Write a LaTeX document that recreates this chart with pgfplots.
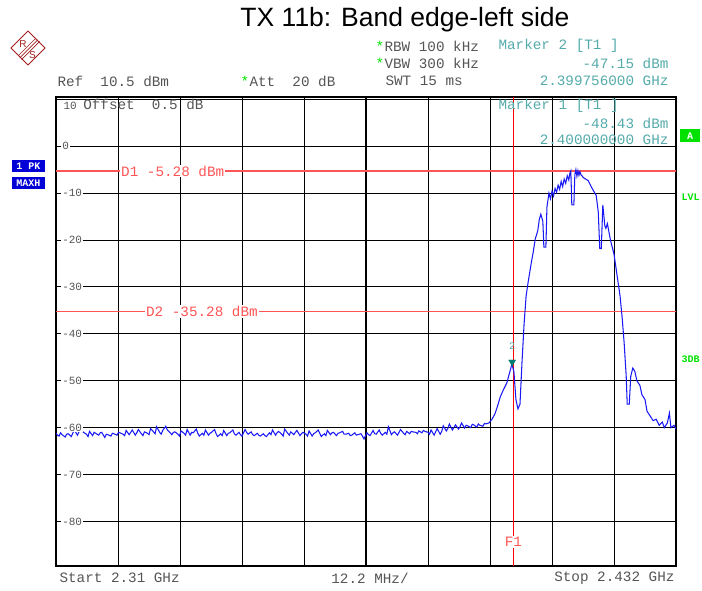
\documentclass[border=0pt]{standalone}
\usepackage{pgfplots}
\pgfplotsset{compat=1.18}
\usepackage{fontspec}
\setmainfont{Liberation Sans}
\newfontfamily\mono{Liberation Mono}
\definecolor{trace}{RGB}{25,25,245}
\definecolor{dline}{RGB}{255,85,85}
\definecolor{mk}{RGB}{85,170,170}
\definecolor{mkdark}{RGB}{0,125,115}
\definecolor{grn}{RGB}{0,225,0}
\definecolor{rsred}{RGB}{160,30,30}
\definecolor{lbl}{RGB}{85,85,85}
\definecolor{pkblue}{RGB}{0,0,215}
\newcommand\hdr{\mono\fontsize{14.3}{14.3}\selectfont}
\newcommand\sml{\mono\fontsize{10}{10}\selectfont}
\newcommand\tkl{\mono\fontsize{11}{11}\selectfont}

\pgfplotstableread{
f y
2310.0 -61.2
2310.3 -61.6
2310.6 -61.8
2310.9 -61.1
2311.2 -61.5
2311.8 -62.0
2312.1 -61.4
2312.4 -61.3
2313.0 -61.9
2313.3 -61.2
2313.6 -60.4
2314.2 -61.6
2314.5 -61.0
2314.8 -59.9
2315.1 -60.7
2315.4 -61.0
2316.0 -61.4
2316.3 -61.9
2316.6 -60.8
2317.2 -61.7
2317.5 -61.0
2317.8 -61.2
2318.4 -61.6
2318.7 -61.1
2319.0 -61.0
2319.6 -62.1
2319.9 -61.4
2320.2 -61.5
2320.8 -61.8
2321.1 -61.2
2321.4 -61.3
2322.0 -61.6
2322.3 -61.0
2322.6 -61.1
2323.2 -61.4
2323.5 -61.7
2323.8 -60.6
2324.4 -61.5
2324.7 -61.0
2325.0 -60.5
2325.6 -61.6
2325.9 -61.1
2326.2 -60.4
2326.8 -61.3
2327.1 -61.7
2327.4 -60.9
2328.0 -61.2
2328.3 -61.5
2328.6 -60.2
2329.2 -60.9
2329.5 -61.3
2329.8 -59.8
2330.4 -61.0
2330.7 -61.4
2331.0 -60.6
2331.6 -59.7
2331.9 -60.5
2332.2 -60.8
2332.8 -61.5
2333.1 -61.0
2333.4 -60.9
2334.0 -61.4
2334.3 -61.8
2334.6 -60.7
2335.2 -61.2
2335.5 -61.6
2335.8 -60.4
2336.4 -61.6
2336.7 -61.0
2337.0 -61.1
2337.6 -60.3
2337.9 -61.2
2338.2 -61.8
2338.8 -61.2
2339.1 -61.6
2339.4 -60.5
2340.0 -61.6
2340.3 -61.2
2340.6 -61.0
2341.2 -60.4
2341.5 -61.3
2341.8 -61.9
2342.4 -61.3
2342.7 -61.7
2343.0 -60.6
2343.6 -61.7
2343.9 -61.2
2344.2 -61.1
2344.8 -60.5
2345.1 -61.3
2345.4 -61.6
2346.0 -61.0
2346.3 -61.5
2346.6 -61.8
2347.2 -60.4
2347.5 -61.0
2347.8 -61.4
2348.4 -60.9
2348.7 -61.5
2349.0 -61.7
2349.6 -61.2
2349.9 -61.6
2350.2 -61.8
2350.8 -61.3
2351.1 -61.7
2351.4 -61.9
2352.0 -61.1
2352.3 -61.5
2352.6 -60.5
2353.2 -61.6
2353.5 -61.1
2353.8 -60.8
2354.4 -61.4
2354.7 -61.8
2355.0 -60.3
2355.6 -61.2
2355.9 -61.6
2356.2 -60.9
2356.8 -61.5
2357.1 -61.0
2357.4 -60.6
2358.0 -61.7
2358.3 -61.3
2358.6 -61.0
2359.2 -61.4
2359.5 -61.8
2359.8 -60.7
2360.4 -61.8
2360.7 -61.3
2361.0 -61.1
2361.6 -60.5
2361.9 -61.2
2362.2 -61.9
2362.8 -61.3
2363.1 -61.7
2363.4 -60.6
2364.0 -61.5
2364.3 -61.1
2364.6 -61.0
2365.2 -61.7
2365.5 -61.2
2365.8 -61.1
2366.4 -60.8
2366.7 -61.4
2367.0 -61.4
2367.6 -61.2
2367.9 -61.7
2368.2 -61.6
2368.8 -61.1
2369.1 -61.6
2369.4 -61.5
2370.0 -61.3
2370.3 -61.8
2370.6 -62.4
2371.2 -61.1
2371.5 -61.5
2371.8 -61.7
2372.4 -60.6
2372.7 -61.3
2373.0 -61.4
2373.6 -60.5
2373.9 -61.2
2374.2 -61.6
2374.8 -61.0
2375.1 -61.4
2375.4 -59.8
2376.0 -61.5
2376.3 -61.1
2376.6 -60.9
2377.2 -61.6
2377.5 -61.0
2377.8 -60.4
2378.4 -61.2
2378.7 -61.5
2379.0 -60.8
2379.6 -61.3
2379.9 -60.8
2380.2 -60.9
2380.8 -61.0
2381.1 -61.3
2381.4 -60.7
2382.0 -61.1
2382.3 -60.6
2382.6 -60.8
2383.2 -61.0
2383.5 -61.4
2383.8 -60.5
2384.4 -61.6
2384.7 -60.9
2385.0 -60.2
2385.6 -61.4
2385.9 -60.8
2386.2 -59.6
2386.8 -60.7
2387.1 -60.2
2387.4 -59.2
2388.0 -60.5
2388.3 -60.0
2388.6 -59.4
2389.2 -60.3
2389.5 -59.8
2389.8 -59.0
2390.4 -60.1
2390.7 -59.5
2391.0 -59.6
2391.6 -60.0
2391.9 -59.3
2392.2 -59.4
2392.8 -59.9
2393.1 -59.2
2393.4 -59.5
2394.0 -59.7
2394.3 -59.1
2394.6 -59.2
2395.2 -59.0
2395.8 -58.2
2396.4 -57.0
2397.0 -55.0
2397.4 -53.5
2398.0 -52.0
2398.7 -50.5
2399.2 -48.5
2399.7 -46.5
2400.1 -48.0
2400.5 -54.0
2400.9 -56.0
2401.3 -55.0
2401.7 -46.0
2402.1 -38.0
2402.5 -32.0
2402.9 -29.0
2403.5 -25.0
2403.9 -22.6
2404.3 -19.8
2404.8 -18.0
2405.1 -15.6
2405.4 -14.5
2405.8 -16.0
2406.0 -21.5
2406.4 -21.5
2406.6 -13.0
2407.0 -10.0
2407.3 -11.2
2407.6 -9.6
2407.9 -10.6
2408.2 -9.0
2408.5 -9.8
2408.8 -8.3
2409.1 -9.2
2409.4 -7.5
2409.7 -8.6
2410.0 -7.0
2410.3 -7.9
2410.6 -6.3
2410.9 -7.2
2411.1 -5.8
2411.3 -5.3
2411.5 -12.5
2411.9 -12.5
2412.1 -6.0
2412.3 -5.0
2412.5 -6.4
2412.7 -5.2
2412.9 -6.2
2413.1 -5.4
2413.3 -6.1
2413.9 -6.8
2414.7 -7.3
2415.5 -9.0
2416.3 -10.5
2416.7 -14.0
2417.0 -21.8
2417.3 -21.8
2417.6 -12.5
2418.0 -17.0
2418.2 -17.5
2418.5 -16.5
2419.1 -20.0
2419.8 -23.0
2420.4 -27.5
2421.0 -32.0
2421.4 -36.5
2421.8 -42.0
2422.2 -49.0
2422.4 -55.0
2422.8 -55.0
2423.1 -49.0
2423.5 -47.3
2423.9 -48.0
2424.3 -50.0
2424.9 -51.0
2425.3 -53.0
2425.9 -54.0
2426.3 -56.5
2426.9 -57.5
2427.5 -58.5
2428.1 -58.2
2428.7 -59.5
2429.3 -58.8
2429.7 -60.0
2430.3 -59.0
2430.7 -56.9
2431.0 -60.0
2431.6 -59.5
2432.0 -60.3
}\spectrum

\begin{document}
\begin{tikzpicture}[x=1pt,y=1pt]
\useasboundingbox (0,0) rectangle (702,590);
\begin{axis}[
    at={(56pt,24pt)}, anchor=south west,
    scale only axis, width=620pt, height=469pt,
    xmin=2310, xmax=2432, ymin=-89.5, ymax=10.5,
    xtick={2322.2,2334.4,2346.6,2358.8,2383.2,2395.4,2407.6,2419.8},
    ytick={-80,-70,-60,-50,-40,-30,-20,-10,0,10},
    xticklabels={}, yticklabels={},
    major tick length=0pt,
    grid=major,
    major grid style={black, line width=1pt},
    extra x ticks={2371}, extra x tick labels={},
    extra x tick style={major grid style={black, line width=1.9pt}},
    axis line style={line width=1.9pt},
]
\addplot[dline, line width=1.1pt] coordinates {(2310,-5.28) (2432,-5.28)};
\addplot[dline, line width=1.1pt] coordinates {(2310,-35.28) (2432,-35.28)};
\draw[red, line width=1.3pt] (axis cs:2400,-89.5) -- (axis cs:2400,10.5);
\addplot[trace, line width=1.05pt] table[x=f, y=y] {\spectrum};
\addplot[only marks, mark=triangle*, mark size=4pt,
    mark options={rotate=180, fill=mkdark, draw=mkdark}] coordinates {(2399.76,-46.0)};
\node[text=mk, font=\sml] at (axis cs:2399.76,-42.6) {2};
\node[anchor=west, fill=white, inner sep=1pt, text=lbl, font=\tkl] at (axis cs:2311.0,0) {0};
\node[anchor=west, fill=white, inner sep=1pt, text=lbl, font=\tkl] at (axis cs:2311.0,-10) {-10};
\node[anchor=west, fill=white, inner sep=1pt, text=lbl, font=\tkl] at (axis cs:2311.0,-20) {-20};
\node[anchor=west, fill=white, inner sep=1pt, text=lbl, font=\tkl] at (axis cs:2311.0,-30) {-30};
\node[anchor=west, fill=white, inner sep=1pt, text=lbl, font=\tkl] at (axis cs:2311.0,-40) {-40};
\node[anchor=west, fill=white, inner sep=1pt, text=lbl, font=\tkl] at (axis cs:2311.0,-50) {-50};
\node[anchor=west, fill=white, inner sep=1pt, text=lbl, font=\tkl] at (axis cs:2311.0,-60) {-60};
\node[anchor=west, fill=white, inner sep=1pt, text=lbl, font=\tkl] at (axis cs:2311.0,-70) {-70};
\node[anchor=west, fill=white, inner sep=1pt, text=lbl, font=\tkl] at (axis cs:2311.0,-80) {-80};
\node[anchor=west, fill=white, inner sep=1pt, text=dline, font=\hdr] at (axis cs:2322.6,-5.28) {D1 -5.28 dBm};
\node[anchor=west, fill=white, inner sep=1pt, text=dline, font=\hdr] at (axis cs:2327.5,-35.28) {D2 -35.28 dBm};
\node[fill=white, inner sep=1pt, text=dline, font=\hdr] at (axis cs:2400,-84.4) {F1};
\end{axis}
% title and logo
\node[font=\fontsize{26.5}{26.5}\selectfont] at (405,570) {TX 11b: Band edge-left side};
\begin{scope}[rsred, line width=1pt, line join=round]
\draw (28,559) -- (45,542) -- (28,525) -- (11,542) -- cycle;
\draw[line width=0.7pt] (36.0,552.0) -- (18.0,534.0);
\draw[line width=0.7pt] (37.8,550.2) -- (19.8,532.2);
\draw[line width=0.7pt] (39.6,548.4) -- (21.6,530.4);
\node[font=\fontsize{10}{10}\selectfont] at (23,546) {R};
\node[font=\fontsize{10}{10}\selectfont] at (32.5,535) {S};
\end{scope}
% header
\node[anchor=west, text=grn, font=\hdr] at (372,544) {*};
\node[anchor=west, text=lbl, font=\hdr] at (381,544) {RBW 100 kHz};
\node[anchor=west, text=grn, font=\hdr] at (372,527) {*};
\node[anchor=west, text=lbl, font=\hdr] at (381,527) {VBW 300 kHz};
\node[anchor=west, text=lbl, font=\hdr] at (54,509) {Ref\ \ 10.5 dBm};
\node[anchor=west, text=grn, font=\hdr] at (237,509) {*};
\node[anchor=west, text=lbl, font=\hdr] at (246,509) {Att\ \ 20 dB};
\node[anchor=west, text=lbl, font=\hdr] at (382,509) {SWT 15 ms};
\node[anchor=west, text=mk, font=\hdr] at (495,544) {Marker 2 [T1 ]};
\node[anchor=east, text=mk, font=\hdr] at (672,527) {-47.15 dBm};
\node[anchor=east, text=mk, font=\hdr] at (672,509) {2.399756000 GHz};
\node[anchor=west, text=lbl, font=\hdr] at (60,486) {\tkl 10\ \hdr Offset\ \ 0.5 dB};
\node[anchor=west, text=mk, font=\hdr] at (495,484) {Marker 1 [T1 ]};
\node[anchor=east, text=mk, font=\hdr] at (672,467) {-48.43 dBm};
\node[anchor=east, text=mk, font=\hdr] at (672,450) {2.400000000 GHz};
% side flags
\node[fill=pkblue, text=white, font=\bfseries\sml, minimum width=33pt, minimum height=12pt, inner sep=0pt] at (28.5,424) {1 PK};
\node[fill=pkblue, text=white, font=\bfseries\sml, minimum width=33pt, minimum height=12pt, inner sep=0pt] at (28.5,407) {MAXH};
\node[fill=grn, text=white, font=\bfseries\sml, minimum width=20pt, minimum height=13pt, inner sep=0pt] at (690,454) {A};
\node[anchor=west, text=grn, font=\bfseries\sml] at (678,393) {LVL};
\node[anchor=west, text=grn, font=\bfseries\sml] at (678,231) {3DB};
% footer
\node[anchor=west, text=lbl, font=\hdr] at (56,12) {Start 2.31 GHz};
\node[text=lbl, font=\hdr] at (370,12) {12.2 MHz/};
\node[anchor=east, text=lbl, font=\hdr] at (678,12) {Stop 2.432 GHz};
\end{tikzpicture}
\end{document}
